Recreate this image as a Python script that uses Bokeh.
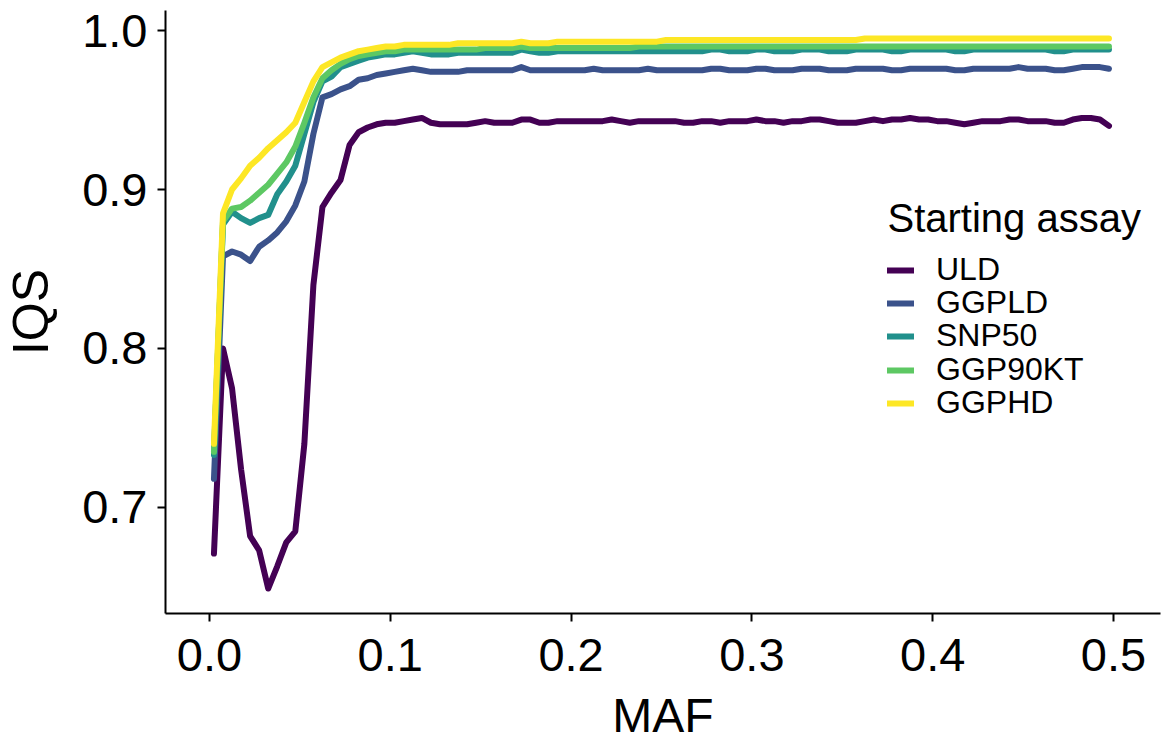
import numpy as np
from bokeh.plotting import figure
from bokeh.models import Range1d, FixedTicker, Legend, LegendItem, CustomJSTickFormatter, Label
from bokeh.embed import file_html
from bokeh.resources import INLINE

# MAF bin midpoints (bins of width 0.005)
maf = [round(0.0025 + 0.005 * i, 4) for i in range(100)]

series_names = ["ULD", "GGPLD", "SNP50", "GGP90KT", "GGPHD"]
colors = ["#440154", "#3B528B", "#21908C", "#5DC863", "#FDE725"]

uld = [0.671, 0.800, 0.775, 0.724, 0.682, 0.673, 0.649, 0.663, 0.678, 0.685,
       0.740, 0.840, 0.889, 0.898, 0.906, 0.928, 0.936, 0.939, 0.941, 0.942,
       0.942, 0.943, 0.944, 0.945, 0.942, 0.941, 0.941, 0.941, 0.941, 0.942,
       0.943, 0.942, 0.942, 0.942, 0.944, 0.944, 0.942, 0.942, 0.943, 0.943,
       0.943, 0.943, 0.943, 0.943, 0.944, 0.943, 0.942, 0.943, 0.943, 0.943,
       0.943, 0.943, 0.942, 0.942, 0.943, 0.943, 0.942, 0.943, 0.943, 0.943,
       0.944, 0.943, 0.943, 0.942, 0.943, 0.943, 0.944, 0.944, 0.943, 0.942,
       0.942, 0.942, 0.943, 0.944, 0.943, 0.944, 0.944, 0.945, 0.944, 0.944,
       0.943, 0.943, 0.942, 0.941, 0.942, 0.943, 0.943, 0.943, 0.944, 0.944,
       0.943, 0.943, 0.943, 0.942, 0.942, 0.944, 0.945, 0.945, 0.944, 0.940]

ggpld = [0.718, 0.858, 0.861, 0.859, 0.855, 0.864, 0.868, 0.873, 0.880, 0.890,
         0.905, 0.935, 0.958, 0.960, 0.963, 0.965, 0.969, 0.970, 0.972, 0.973,
         0.974, 0.975, 0.976, 0.975, 0.974, 0.974, 0.974, 0.974, 0.975, 0.975,
         0.975, 0.975, 0.975, 0.975, 0.977, 0.975, 0.975, 0.975, 0.975, 0.975,
         0.975, 0.975, 0.976, 0.975, 0.975, 0.975, 0.975, 0.975, 0.976, 0.975,
         0.975, 0.975, 0.975, 0.975, 0.975, 0.976, 0.976, 0.975, 0.975, 0.975,
         0.976, 0.976, 0.975, 0.975, 0.975, 0.976, 0.976, 0.976, 0.975, 0.975,
         0.975, 0.976, 0.976, 0.976, 0.976, 0.975, 0.975, 0.976, 0.976, 0.976,
         0.976, 0.976, 0.975, 0.975, 0.976, 0.976, 0.976, 0.976, 0.976, 0.977,
         0.976, 0.976, 0.976, 0.975, 0.975, 0.976, 0.977, 0.977, 0.977, 0.976]

snp50 = [0.733, 0.878, 0.886, 0.882, 0.879, 0.882, 0.884, 0.897, 0.905, 0.915,
         0.935, 0.955, 0.968, 0.971, 0.977, 0.979, 0.981, 0.983, 0.984, 0.985,
         0.985, 0.986, 0.987, 0.986, 0.985, 0.985, 0.985, 0.986, 0.986, 0.986,
         0.986, 0.986, 0.986, 0.986, 0.988, 0.987, 0.986, 0.986, 0.987, 0.987,
         0.987, 0.987, 0.987, 0.987, 0.987, 0.987, 0.987, 0.987, 0.987, 0.987,
         0.987, 0.987, 0.987, 0.987, 0.987, 0.988, 0.988, 0.987, 0.987, 0.987,
         0.988, 0.988, 0.987, 0.987, 0.987, 0.988, 0.988, 0.988, 0.987, 0.987,
         0.987, 0.988, 0.988, 0.988, 0.988, 0.987, 0.987, 0.988, 0.988, 0.988,
         0.988, 0.988, 0.987, 0.987, 0.988, 0.988, 0.988, 0.988, 0.988, 0.988,
         0.988, 0.988, 0.988, 0.987, 0.987, 0.988, 0.988, 0.988, 0.988, 0.988]

ggp90kt = [0.735, 0.880, 0.888, 0.889, 0.893, 0.898, 0.903, 0.910, 0.917, 0.927,
           0.942, 0.958, 0.970, 0.975, 0.979, 0.982, 0.984, 0.985, 0.986, 0.987,
           0.987, 0.988, 0.988, 0.988, 0.988, 0.988, 0.988, 0.988, 0.988, 0.988,
           0.989, 0.989, 0.989, 0.989, 0.990, 0.989, 0.989, 0.989, 0.989, 0.989,
           0.989, 0.989, 0.989, 0.989, 0.989, 0.989, 0.989, 0.990, 0.990, 0.990,
           0.990, 0.990, 0.990, 0.990, 0.990, 0.990, 0.990, 0.990, 0.990, 0.990,
           0.990, 0.990, 0.990, 0.990, 0.990, 0.990, 0.990, 0.990, 0.990, 0.990,
           0.990, 0.990, 0.990, 0.990, 0.990, 0.990, 0.990, 0.990, 0.990, 0.990,
           0.990, 0.990, 0.990, 0.990, 0.990, 0.990, 0.990, 0.990, 0.990, 0.990,
           0.990, 0.990, 0.990, 0.990, 0.990, 0.990, 0.990, 0.990, 0.990, 0.990]

ggphd = [0.740, 0.885, 0.900, 0.907, 0.915, 0.920, 0.926, 0.931, 0.936, 0.942,
         0.955, 0.968, 0.977, 0.980, 0.983, 0.985, 0.987, 0.988, 0.989, 0.990,
         0.990, 0.991, 0.991, 0.991, 0.991, 0.991, 0.991, 0.992, 0.992, 0.992,
         0.992, 0.992, 0.992, 0.992, 0.993, 0.992, 0.992, 0.992, 0.993, 0.993,
         0.993, 0.993, 0.993, 0.993, 0.993, 0.993, 0.993, 0.993, 0.993, 0.993,
         0.994, 0.994, 0.994, 0.994, 0.994, 0.994, 0.994, 0.994, 0.994, 0.994,
         0.994, 0.994, 0.994, 0.994, 0.994, 0.994, 0.994, 0.994, 0.994, 0.994,
         0.994, 0.994, 0.995, 0.995, 0.995, 0.995, 0.995, 0.995, 0.995, 0.995,
         0.995, 0.995, 0.995, 0.995, 0.995, 0.995, 0.995, 0.995, 0.995, 0.995,
         0.995, 0.995, 0.995, 0.995, 0.995, 0.995, 0.995, 0.995, 0.995, 0.995]

x_ticks = [0.0, 0.1, 0.2, 0.3, 0.4, 0.5]
y_ticks = [0.7, 0.8, 0.9, 1.0]
x_title = "MAF"
y_title = "IQS"
legend_title = "Starting assay"

FONT = "Liberation Sans"

p = figure(frame_width=995, frame_height=603,
           min_border_left=165, min_border_right=3, min_border_top=10, min_border_bottom=132,
           x_range=Range1d(-0.0243, 0.526), y_range=Range1d(0.6333, 1.0126),
           output_backend="svg", toolbar_location=None,
           background_fill_color="white", border_fill_color="white")
p.outline_line_color = None
p.grid.visible = False

renderers = []
for name, ys, c in zip(series_names, [uld, ggpld, snp50, ggp90kt, ggphd], colors):
    r = p.line(maf, ys, line_color=c, line_width=6, line_join="round", line_cap="round")
    renderers.append((name, r))

for ax in (p.xaxis[0], p.yaxis[0]):
    ax.axis_line_width = 2
    ax.axis_line_color = "black"
    ax.major_tick_line_color = "black"
    ax.major_tick_line_width = 2
    ax.major_tick_out = 8
    ax.major_tick_in = 0
    ax.minor_tick_line_color = None
    ax.major_label_text_font = FONT
    ax.major_label_text_font_size = "47px"
    ax.major_label_text_color = "black"
    ax.axis_label_text_font = FONT
    ax.axis_label_text_font_size = "50px"
    ax.axis_label_text_font_style = "normal"
    ax.axis_label_text_color = "black"
    ax.formatter = CustomJSTickFormatter(code="return tick.toFixed(1);")

p.xaxis.ticker = FixedTicker(ticks=x_ticks)
p.yaxis.ticker = FixedTicker(ticks=y_ticks)
p.xaxis.axis_label = x_title
p.yaxis.axis_label = y_title
p.xaxis.axis_label_text_font_size = "48px"
p.xaxis.major_label_standoff = 17
p.yaxis.major_label_standoff = 10
p.xaxis.axis_label_standoff = 15
p.yaxis.axis_label_standoff = 20

# legend title (inside the plot frame, screen offsets from the frame's lower-left corner)
p.add_layout(Label(x=722, y=396, x_units="screen", y_units="screen", text=legend_title,
                   text_font=FONT, text_font_size="40px", text_color="black",
                   text_align="left", text_baseline="alphabetic"))

# one legend box per entry, so that the entry pitch matches the reference
entry_bottoms = [325, 292, 259, 225, 192]
for (name, r), vy in zip(renderers, entry_bottoms):
    lg = Legend(items=[LegendItem(label=name, renderers=[r])], location=(722, vy),
                label_text_font=FONT, label_text_font_size="32px", label_text_color="black",
                glyph_width=27, glyph_height=26, label_height=26, spacing=0,
                label_standoff=22, padding=0, margin=0,
                background_fill_alpha=0, border_line_color=None)
    p.add_layout(lg)

open("out.html", "w").write(file_html(p, INLINE))
